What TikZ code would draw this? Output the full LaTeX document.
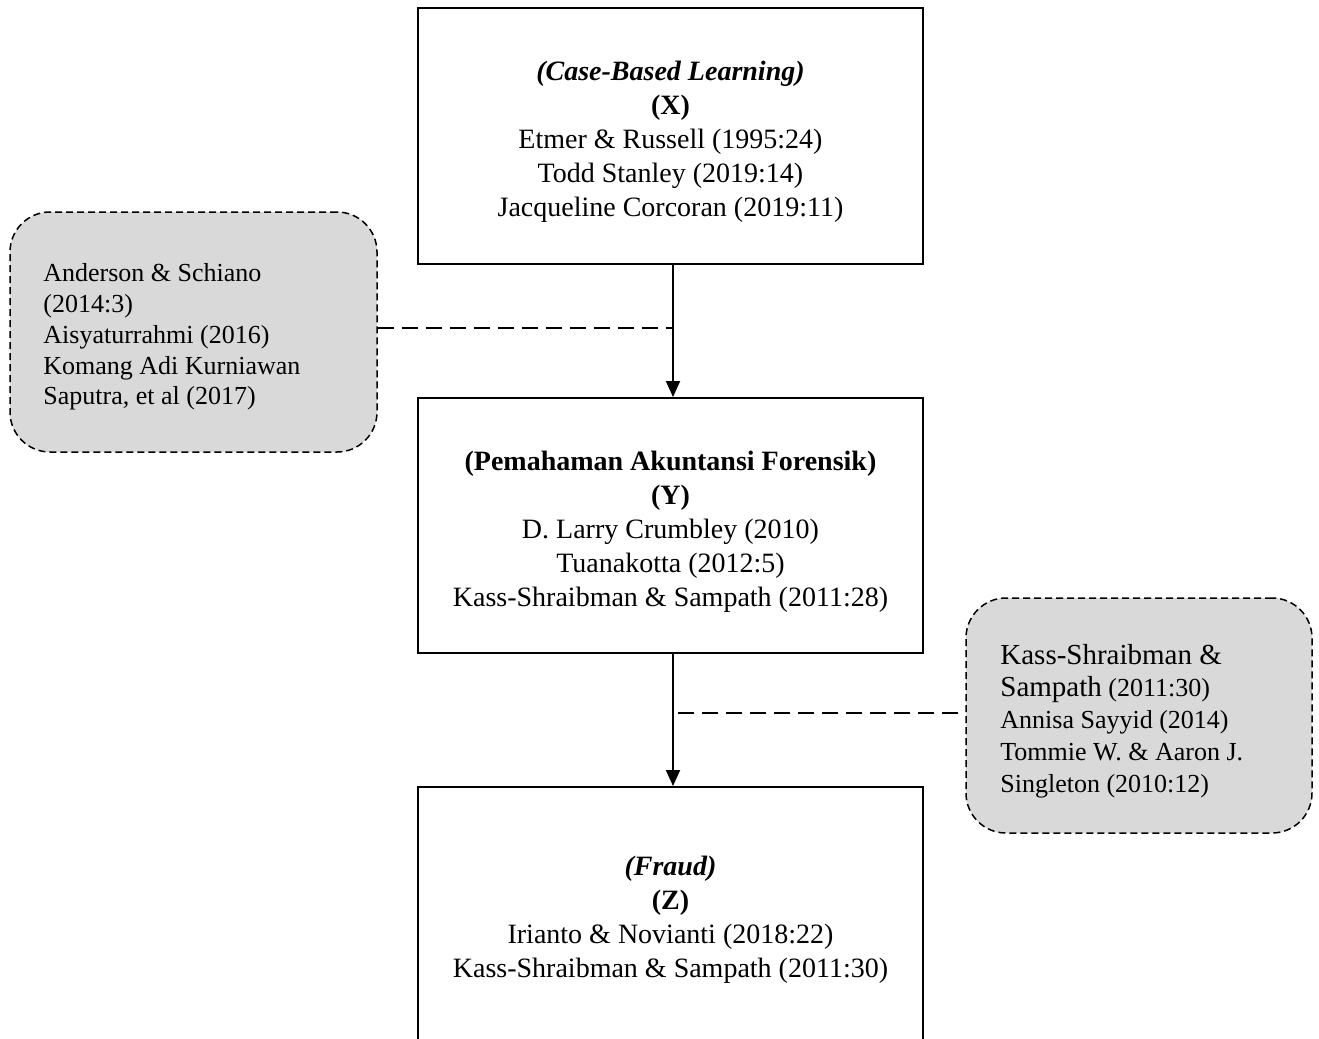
\documentclass[tikz,border=0pt]{standalone}
\usepackage{fontspec}
\setmainfont{Liberation Serif}
\usetikzlibrary{arrows.meta}
\definecolor{boxgray}{HTML}{D9D9D9}
\tikzset{
  mainbox/.style={draw=black, line width=1pt, inner sep=0pt, minimum width=252.5pt},
  maintext/.style={inner sep=0pt, align=center, font=\fontsize{14}{17}\selectfont},
  refbox/.style={draw=black, fill=boxgray, line width=0.75pt, dash pattern=on 3.5pt off 2pt,
    rounded corners=20pt, inner sep=0pt},
  reftext/.style={inner sep=0pt, align=left},
  arr/.style={line width=1pt, -{Triangle[length=8pt,width=7pt]}},
  dline/.style={line width=0.75pt, dash pattern=on 8pt off 4pt}
}
\begin{document}
\begin{tikzpicture}[x=0.5pt,y=-0.5pt]
\useasboundingbox (0,0) rectangle (1319,1039);
\clip (0,0) rectangle (1319,1039);
\fill[white] (0,0) rectangle (1319,1039);

\node[mainbox, minimum height=128pt] (X) at (670.5,136) {};
\node[maintext] (Xt) at (670.5,141.5)
  {\textbf{\textit{(Case-Based Learning)}}\\ \textbf{(X)}\\ Etmer \& Russell (1995:24)\\ Todd Stanley (2019:14)\\ Jacqueline Corcoran (2019:11)};

\node[mainbox, minimum height=127.5pt] (Y) at (670.5,525.5) {};
\node[maintext] (Yt) at (670.5,532)
  {\textbf{(Pemahaman Akuntansi Forensik)}\\ \textbf{(Y)}\\ D. Larry Crumbley (2010)\\ Tuanakotta (2012:5)\\ Kass-Shraibman \& Sampath (2011:28)};

\node[mainbox, minimum height=131pt] (Z) at (670.5,918) {};
\node[maintext] (Zt) at (670.5,919.5)
  {\textbf{\textit{(Fraud)}}\\ \textbf{(Z)}\\ Irianto \& Novianti (2018:22)\\ Kass-Shraibman \& Sampath (2011:30)};

\node[refbox, minimum width=183.5pt, minimum height=120pt] (L) at (193.5,332) {};
\node[reftext, font=\fontsize{13}{15.4}\selectfont, anchor=west] (Lt) at (43,337)
  {Anderson \& Schiano\\ (2014:3)\\ Aisyaturrahmi (2016)\\ Komang Adi Kurniawan\\ Saputra, et al (2017)};

\node[refbox, minimum width=173pt, minimum height=117.5pt] (R) at (1139,715.5) {};
\node[reftext, font=\fontsize{13}{16}\selectfont, anchor=west] (Rt) at (1000,721)
  {{\fontsize{14.5}{16}\selectfont Kass-Shraibman \&}\\ {\fontsize{14.5}{16}\selectfont Sampath} (2011:30)\\ Annisa Sayyid (2014)\\ Tommie W. \& Aaron J.\\ Singleton (2010:12)};

\coordinate (ax1) at (673,328);
\coordinate (ax2) at (678,713);

\draw[arr] ([xshift=1.25pt]X.south) -- ([xshift=1.25pt]Y.north);
\draw[arr] ([xshift=1.25pt]Y.south) -- ([xshift=1.25pt]Z.north);
\draw[dline] ([yshift=2pt]L.east) -- (ax1);
\draw[dline] (ax2) -- ([yshift=1.25pt]R.west);
\end{tikzpicture}
\end{document}
